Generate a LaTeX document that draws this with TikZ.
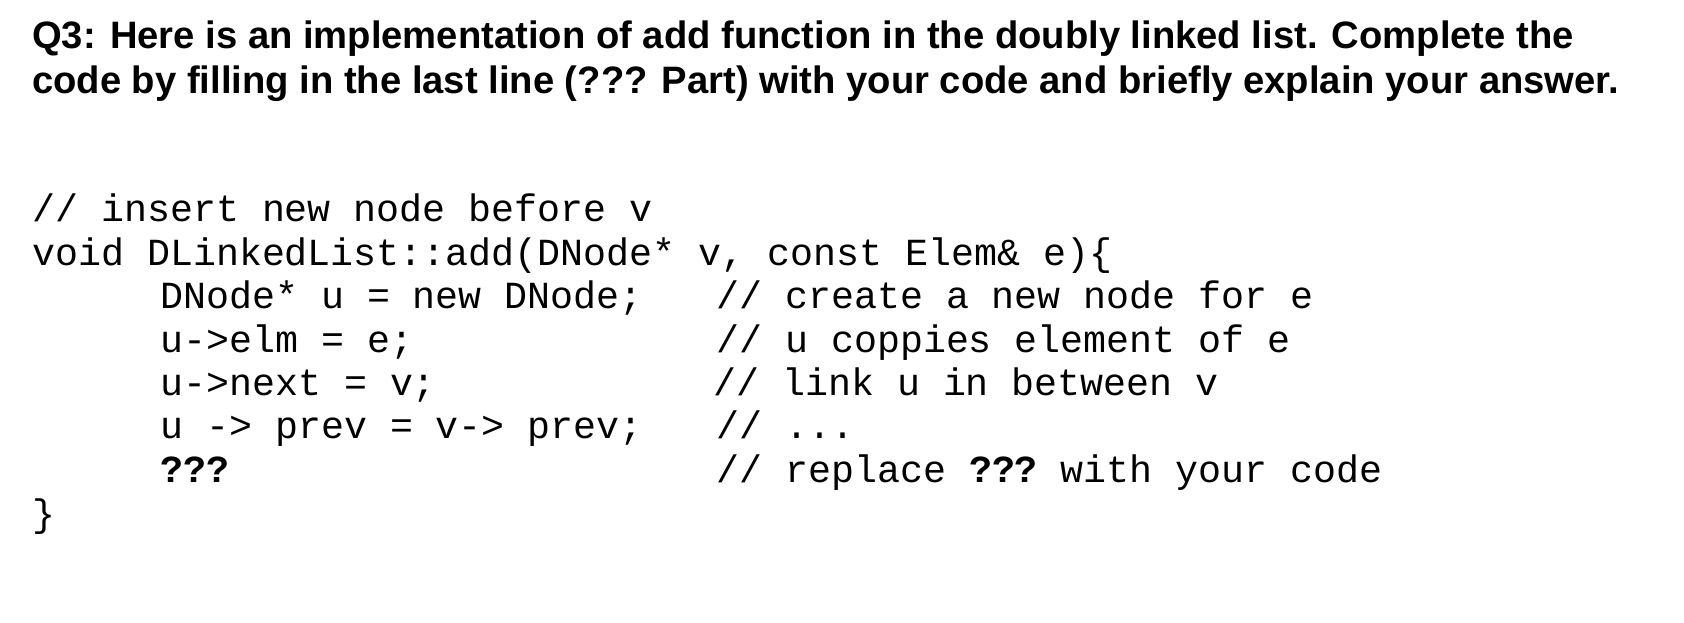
\documentclass[tikz,border=0pt]{standalone}
\usepackage{fontspec}
\setmainfont{Liberation Sans}
\setmonofont{Liberation Mono}
\begin{document}
\begin{tikzpicture}[x=1pt,y=-1pt,
  ttl/.style={anchor=base west,inner sep=0,font=\fontsize{38.2}{44}\selectfont\bfseries},
  code/.style={anchor=base west,inner sep=0,font=\fontsize{38.3}{44}\selectfont\ttfamily}]
\useasboundingbox (0,0) rectangle (1684,622);
\node[ttl] (t1) at (32,48) {Q3: Here is an implementation of add function in the doubly linked list. Complete the};
\node[ttl] (t2) at (32,93) {code by filling in the last line (??? Part) with your code and briefly explain your answer.};
\node[code] (c0) at (32,221) {// insert new node before v};
\node[code] (c1) at (32,265) {void DLinkedList::add(DNode* v, const Elem\& e)\{};
\node[code] (c2) at (160,308) {DNode* u = new DNode;};
\node[code] (c3) at (160,352) {u->elm = e;};
\node[code] (c4) at (160,395) {u->next = v;};
\node[code] (c5) at (160,438) {u -> prev = v-> prev;};
\node[code] (c6) at (160,482) {\bfseries ???};
\node[code] (c7) at (32,526) {\}};
\node[code] (m2) at (716,308) {// create a new node for e};
\node[code] (m3) at (716,352) {// u coppies element of e};
\node[code] (m4) at (713,395) {// link u in between v};
\node[code] (m5) at (716,438) {// ...};
\node[code] (m6) at (716,482) {// replace {\bfseries ???} with your code};
\end{tikzpicture}
\end{document}
